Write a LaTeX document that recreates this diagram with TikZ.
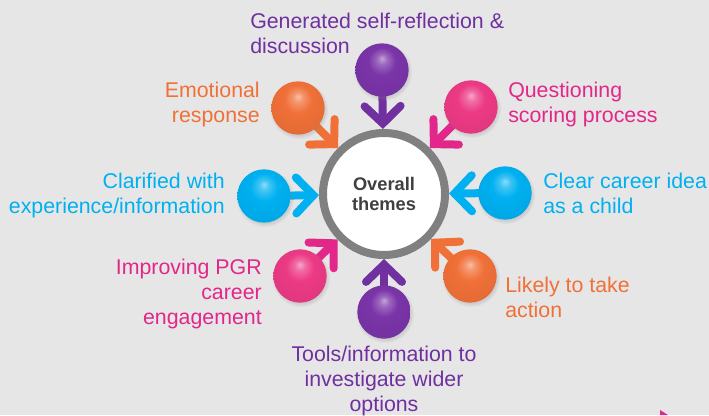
\documentclass[tikz,border=0pt]{standalone}
\usepackage{fontspec}
\setmainfont{Liberation Sans}
\usetikzlibrary{arrows.meta,shadows}

\definecolor{bgfill}{RGB}{230,230,230}
\definecolor{themepurple}{HTML}{7030A0}
\definecolor{themeorange}{HTML}{F07038}
\definecolor{themepink}{HTML}{E3268A}
\definecolor{themecyan}{HTML}{00B0F0}
\definecolor{orbpink}{HTML}{EC3A84}
\definecolor{orbpurple}{HTML}{7A34A8}
\definecolor{ringgray}{HTML}{808080}
\definecolor{hubtext}{HTML}{404040}
\colorlet{ballc}{gray}

\pgfdeclareradialshading[ballc]{gloss}{\pgfqpoint{0bp}{11bp}}{color(0bp)=(ballc!45!white); color(5bp)=(ballc!75!white); color(13bp)=(ballc); color(30bp)=(ballc!95!black); color(36bp)=(ballc!82!black); color(50bp)=(ballc!70!black)}

\pgfdeclarelayer{base}
\pgfdeclarelayer{links}
\pgfsetlayers{base,links,main}

\tikzset{every picture/.style={line width=0.75pt},
  orb/.style={circle, minimum size=40pt, inner sep=0pt, shading=gloss, /utils/exec={\colorlet{ballc}{#1}}, circular drop shadow={shadow xshift=0.6pt, shadow yshift=-1.2pt, opacity=0.25}},
  flow/.style={draw=#1, line width=6pt, -{Straight Barb[length=13pt,width=27pt,line cap=round]}},
  theme text/.style={inner sep=0pt, text=#1, font=\fontsize{16}{18.5}\selectfont}
}

\begin{document}
\begin{tikzpicture}[x=0.75pt,y=0.75pt,yscale=-1,xscale=1]
\useasboundingbox (0,0) rectangle (709,415);

\begin{pgfonlayer}{base}
\fill [bgfill] (0,0) rectangle (709,415);
\fill [themepink] (660,410) -- (668,415) -- (660,415) -- cycle;
\end{pgfonlayer}

% Hub
\node [circle, draw=ringgray, line width=6pt, fill=white, minimum size=91.5pt, inner sep=0pt, align=center, text=hubtext, font=\bfseries\fontsize{13.7}{15.5}\selectfont] (hub) at (384,194) {Overall\\themes};

% Balls
\node [orb=orbpurple] (breflect) at (382,70) {};
\node [orb=themeorange] (bemotion) at (298,108) {};
\node [orb=orbpink] (bquestion) at (471,107) {};
\node [orb=themecyan] (bclarify) at (264,196) {};
\node [orb=themecyan] (bclear) at (505,193) {};
\node [orb=orbpink] (bimprove) at (300,276) {};
\node [orb=themeorange] (bact) at (470,276) {};
\node [orb=orbpurple] (btools) at (384,312) {};

% Arrows
\begin{pgfonlayer}{links}
\draw [flow=themepurple] (breflect.center) -- (hub);
\draw [flow=themeorange] (bemotion.center) -- (hub);
\draw [flow=themepink] (bquestion.center) -- (hub);
\draw [flow=themecyan] (bclarify.center) -- (hub);
\draw [flow=themecyan] (bclear.center) -- (hub);
\draw [flow=themepink] (bimprove.center) -- (hub);
\draw [flow=themeorange] (bact.center) -- (hub);
\draw [flow=themepurple] (btools.center) -- (hub);
\end{pgfonlayer}

% Text Node
\node [theme text=themepurple, anchor=base west, align=left] (lreflect) at (250,53) {Generated self-reflection \&\\discussion};
% Text Node
\node [theme text=themeorange, anchor=base east, align=right] (lemotion) at (260,122) {Emotional\\response};
% Text Node
\node [theme text=themepink, anchor=base west, align=left] (lquestion) at (508,122) {Questioning\\scoring process};
% Text Node
\node [theme text=themecyan, anchor=base east, align=right] (lclarify) at (225,213) {Clarified with\\experience/information};
% Text Node
\node [theme text=themecyan, anchor=base west, align=left] (lclear) at (543,213) {Clear career idea\\as a child};
% Text Node
\node [theme text=themepink, anchor=base east, align=right] (limprove) at (262,324) {Improving PGR\\career\\engagement};
% Text Node
\node [theme text=themeorange, anchor=base west, align=left] (lact) at (505,317) {Likely to take\\action};
% Text Node
\node [theme text=themepurple, anchor=base, align=center] (ltools) at (384,411) {Tools/information to\\investigate wider\\options};

\end{tikzpicture}
\end{document}
